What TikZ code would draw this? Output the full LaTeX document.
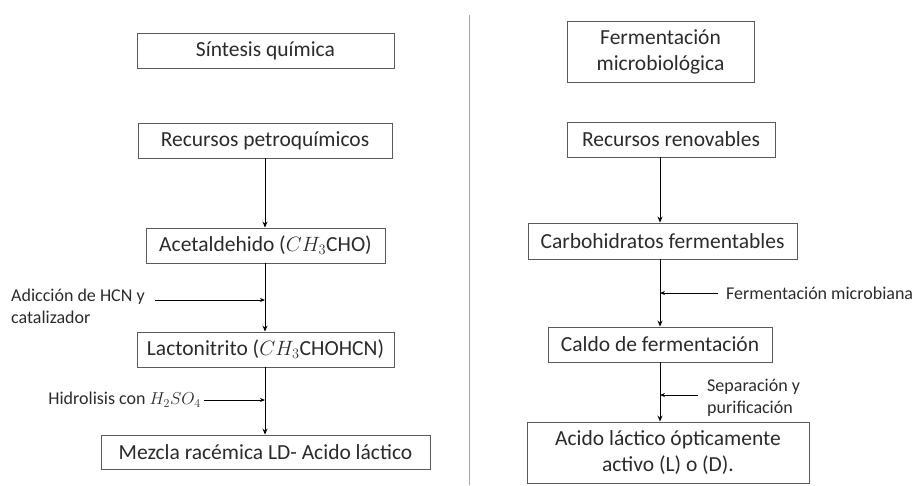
\documentclass[tikz,border=0pt]{standalone}
\usepackage{fontspec}
\setmainfont{Carlito}
\usetikzlibrary{arrows.meta}
\definecolor{ink}{HTML}{2B2B2B}
\definecolor{frame}{HTML}{5A5A5A}
\begin{document}
\begin{tikzpicture}[x=1pt,y=-1pt,
  box/.style={draw=frame,line width=0.9pt,text=ink,inner sep=0pt,align=center,
    font=\fontsize{21.5}{26}\selectfont},
  note/.style={text=ink,inner sep=0pt,align=left,font=\fontsize{18}{22}\selectfont},
  flow/.style={-{Stealth[length=6pt,width=5pt]},line width=1pt,draw=black},
  feed/.style={-{Stealth[length=5pt,width=4pt]},line width=0.9pt,draw=black}]
\useasboundingbox (0,0) rectangle (918,485);
% column divider
\draw[gray!70,line width=1pt] (469,15) -- (469,485);
% chemical synthesis route
\coordinate (colL) at (265,0);
\node[box,minimum width=257pt,minimum height=35pt] (s1) at (265.5,50.5) {Síntesis química};
\node[box,minimum width=254pt,minimum height=35pt] (s2) at (265,140.5) {Recursos petroquímicos};
\node[box,minimum width=239pt,minimum height=35pt] (s3) at (265.5,245.5) {Acetaldehido ($CH_3$CHO)};
\node[box,minimum width=257pt,minimum height=35pt] (s4) at (265.5,349.5) {Lactonitrito ($CH_3$CHOHCN)};
\node[box,minimum width=329pt,minimum height=34pt] (s5) at (265.5,452) {Mezcla racémica LD- Acido láctico};
\draw[flow] (s2.south -| colL) -- (s3.north -| colL);
\draw[flow] (s3.south -| colL) -- (s4.north -| colL);
\draw[flow] (s4.south -| colL) -- (s5.north -| colL);
\node[note,anchor=west] (n1) at (11,306) {Adicción de HCN y\\catalizador};
\coordinate (n1a) at (155,300);
\draw[feed] (n1a) -- (n1a -| colL);
\node[note,anchor=east] (n2) at (201,400) {Hidrolisis con $H_2SO_4$};
\draw[feed] (n2.east) ++(3,0) coordinate (n2a) -- (n2a -| colL);
% microbial fermentation route
\coordinate (colR) at (660,0);
\node[box,minimum width=187pt,minimum height=61pt] (r1) at (660.5,51.5) {Fermentación\\microbiológica};
\node[box,minimum width=208pt,minimum height=35pt] (r2) at (671,139.5) {Recursos renovables};
\node[box,minimum width=269pt,minimum height=36pt] (r3) at (662.5,241) {Carbohidratos fermentables};
\node[box,minimum width=224pt,minimum height=35pt] (r4) at (660,344.5) {Caldo de fermentación};
\node[box,minimum width=282pt,minimum height=61pt] (r5) at (668,452.5) {Acido láctico ópticamente\\activo (L) o (D).};
\draw[flow] (r2.south -| colR) -- (r3.north -| colR);
\draw[flow] (r3.south -| colR) -- (r4.north -| colR);
\draw[flow] (r4.south -| colR) -- (r5.north -| colR);
\node[note,anchor=west] (m1) at (726,293) {Fermentación microbiana};
\draw[feed] (m1.west) ++(-8,0) coordinate (m1a) -- (m1a -| colR);
\node[note,anchor=west] (m2) at (707,398) {Separación y\\purificación};
\coordinate (m2a) at (698,395);
\draw[feed] (m2a) -- (m2a -| colR);
\end{tikzpicture}
\end{document}
